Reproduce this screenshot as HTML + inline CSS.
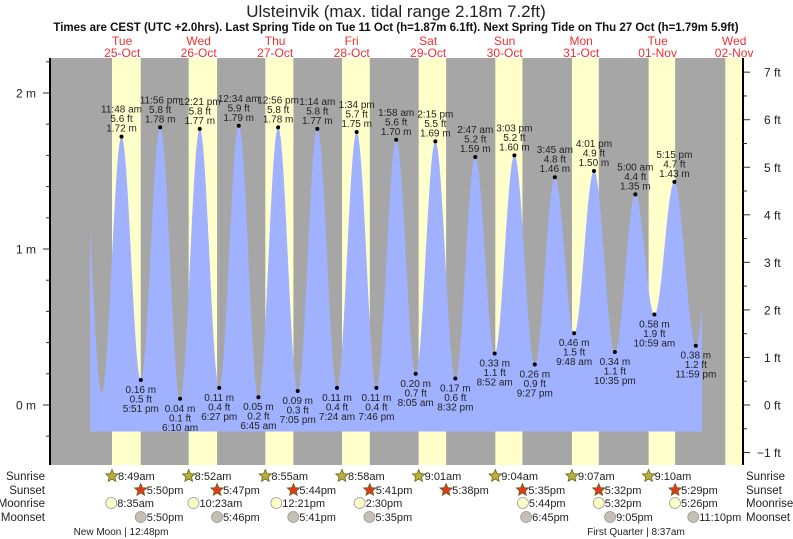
<!DOCTYPE html>
<html><head><meta charset="utf-8"><style>
html,body{margin:0;padding:0;background:#fff;}
svg{display:block;font-family:"Liberation Sans",sans-serif;}
</style></head><body>
<svg id="chart" width="793" height="539" viewBox="0 0 793 539">
<text x="396" y="17" text-anchor="middle" font-size="17" fill="#222">Ulsteinvik (max. tidal range 2.18m 7.2ft)</text>
<text x="396" y="31" text-anchor="middle" font-size="11.5" font-weight="bold" fill="#111">Times are CEST (UTC +2.0hrs). Last Spring Tide on Tue 11 Oct (h=1.87m 6.1ft). Next Spring Tide on Thu 27 Oct (h=1.79m 5.9ft)</text>
<g id="days"></g>
<g id="plot"></g>
<g id="axes"></g>
<g id="marks"></g>
<g id="bottom"></g>
</svg>
<script>
// Data (times in hours from 25-Oct 00:00, heights in metres)
const dayNames = ["Tue","Wed","Thu","Fri","Sat","Sun","Mon","Tue","Wed"];
const dayDates = ["25-Oct","26-Oct","27-Oct","28-Oct","29-Oct","30-Oct","31-Oct","01-Nov","02-Nov"];
const extremeTimes = [-0.4,5.6,11.8,17.85,23.93,30.17,36.35,42.45,48.57,54.75,60.93,67.08,73.23,79.4,85.57,91.77,97.97,104.08,110.25,116.53,122.78,128.87,135.05,141.45,147.75,153.8,160.02,166.58,173.0,178.98,185.25,191.98,197.8];
const extremeHeights = [1.62,0.08,1.72,0.16,1.78,0.04,1.77,0.11,1.79,0.05,1.78,0.09,1.77,0.11,1.75,0.11,1.70,0.20,1.69,0.17,1.59,0.33,1.60,0.26,1.46,0.46,1.50,0.34,1.35,0.58,1.43,0.38,1.40];
const extremeLabels = [null,null,"11:48 am","5:51 pm","11:56 pm","6:10 am","12:21 pm","6:27 pm","12:34 am","6:45 am","12:56 pm","7:05 pm","1:14 am","7:24 am","1:34 pm","7:46 pm","1:58 am","8:05 am","2:15 pm","8:32 pm","2:47 am","8:52 am","3:03 pm","9:27 pm","3:45 am","9:48 am","4:01 pm","10:35 pm","5:00 am","10:59 am","5:15 pm","11:59 pm",null];
const sunrise = [8.82,8.87,8.92,8.97,9.02,9.07,9.12,9.17,9.22];
const sunset = [17.83,17.78,17.73,17.68,17.63,17.58,17.53,17.48,30];
const sunriseLabels = ["8:49am","8:52am","8:55am","8:58am","9:01am","9:04am","9:07am","9:10am"];
const sunsetLabels = ["5:50pm","5:47pm","5:44pm","5:41pm","5:38pm","5:35pm","5:32pm","5:29pm"];
const moonriseDays = [0,1,2,3,5,6,7];
const moonriseTimes = [8.58,10.38,12.35,14.5,17.73,17.53,17.43];
const moonriseLabels = ["8:35am","10:23am","12:21pm","2:30pm","5:44pm","5:32pm","5:26pm"];
const moonsetDays = [0,1,2,3,5,6,7];
const moonsetTimes = [17.83,17.77,17.68,17.58,18.75,21.08,23.17];
const moonsetLabels = ["5:50pm","5:46pm","5:41pm","5:35pm","6:45pm","9:05pm","11:10pm"];
const mTicks = [0,1,2];
const ftTicks = [-1,0,1,2,3,4,5,6,7];

const NS="http://www.w3.org/2000/svg";
const L=50,R=743,T=58,B=465;
const x0=83.9, DAY=76.5;
const xs=t=>x0+t*DAY/24;
const ym=m=>405-m*156;
const yft=f=>ym(f*0.3048);
function mk(tag,attrs,parent,txt){const e=document.createElementNS(NS,tag);for(const k in attrs)e.setAttribute(k,attrs[k]);if(txt!==undefined)e.textContent=txt;parent.appendChild(e);return e;}
const gd=document.getElementById('days'),gp=document.getElementById('plot'),ga=document.getElementById('axes'),gm=document.getElementById('marks'),gb=document.getElementById('bottom');

let bg=mk('rect',{x:L,y:T,width:R-L,height:B-T,fill:'#a6a6a6'},gp);


for(let d=0;d<9;d++){
  const a=Math.max(L,xs(d*24+sunrise[d])),b=Math.min(R,xs(d*24+sunset[d]));
  let r=mk('rect',{x:a,y:T,width:b-a,height:B-T,fill:'#ffffcc'},gp);
  
  
  const cx=xs(d*24+12);
  let t1=mk('text',{x:cx,y:45,'text-anchor':'middle','font-size':12,fill:'#f03030'},gd,dayNames[d]);
  
  
  let t2=mk('text',{x:cx,y:57,'text-anchor':'middle','font-size':12,fill:'#f03030'},gd,dayDates[d]);
  
  
}
function h(t){
  for(let i=0;i<extremeTimes.length-1;i++){
    if(t>=extremeTimes[i]&&t<=extremeTimes[i+1]){
      const f=(t-extremeTimes[i])/(extremeTimes[i+1]-extremeTimes[i]);
      const a=extremeHeights[i],b=extremeHeights[i+1];
      return a+(b-a)*(1-Math.cos(Math.PI*f))/2;
    }
  }
  return extremeHeights[extremeHeights.length-1];
}
const t0=1.9,t1=193.9,yb=ym(-0.17);
let d='M'+xs(t0)+','+yb;
for(let t=t0;t<=t1+0.001;t+=0.2){d+=' L'+xs(t).toFixed(2)+','+ym(h(t)).toFixed(2);}
d+=' L'+xs(t1)+','+yb+' Z';
let area=mk('path',{d:d,fill:'#a0b1ff'},gp);


for(let i=0;i<extremeTimes.length;i++){
  if(!extremeLabels[i])continue;
  const x=xs(extremeTimes[i]),y=ym(extremeHeights[i]);
  const high=extremeHeights[i]>1;
  let c=mk('circle',{cx:x,cy:y,r:2,fill:'#000'},gm);
  
  
  const ft=(extremeHeights[i]/0.3048).toFixed(1)+' ft', m=extremeHeights[i].toFixed(2)+' m';
  const lines=high?[[extremeLabels[i],-24],[ft,-14.5],[m,-5]]:[[m,13],[ft,22.5],[extremeLabels[i],32]];
  for(const [s,dy] of lines){
    let tx=mk('text',{x:x,y:y+dy,'text-anchor':'middle','font-size':10,fill:'#222'},gm,s);
    
    
  }
}
let la=mk('line',{x1:L,y1:T,x2:L,y2:B,stroke:'#000','stroke-width':2},ga);


let ra=mk('line',{x1:R,y1:T,x2:R,y2:B,stroke:'#000','stroke-width':2},ga);


for(let v=-0.4;v<=2.3;v+=0.2){const y=ym(v);if(y<T||y>B)continue;
  const major=Math.abs(v-Math.round(v))<0.01;
  let tk=mk('line',{x1:major?43:46,y1:y,x2:L,y2:y,stroke:'#333'},ga);
  
  }
for(const m of mTicks){let t=mk('text',{x:36,y:ym(m)+4.5,'text-anchor':'end','font-size':12,fill:'#222'},ga,m+' m');
  
  }
for(let v=-1;v<=7.5;v+=0.5){const y=yft(v);if(y<T||y>B)continue;
  const major=Number.isInteger(v);
  let tk=mk('line',{x1:R,y1:y,x2:major?750:747,y2:y,stroke:'#333'},ga);
  
  }
for(const f of ftTicks){let t=mk('text',{x:f<0?757:764,y:yft(f)+4.5,'font-size':12,fill:'#222'},ga,(f<0?'\u22121':f)+' ft');
  
  }
const rows=[["Sunrise",480],["Sunset",494],["Moonrise",507],["Moonset",521]];
for(const [n,y] of rows){
  let a=mk('text',{x:45,y:y,'text-anchor':'end','font-size':11.5,fill:'#222'},gb,n);
  
  
  let b=mk('text',{x:746,y:y,'font-size':11.5,fill:'#222'},gb,n);
  
  
}
function star(cx,cy,fill){let p='';for(let k=0;k<10;k++){const r=k%2?3:6.5,a=-Math.PI/2+k*Math.PI/5;p+=(cx+r*Math.cos(a)).toFixed(1)+','+(cy+r*Math.sin(a)).toFixed(1)+' ';}
  return mk('polygon',{points:p,fill:fill,stroke:'#6a6020','stroke-width':0.8},gb);}
function row(days,times,labels,y,kind){
  for(let i=0;i<labels.length;i++){
    const x=xs(days[i]*24+times[i]);
    let ic;
    if(kind==='sunrise')ic=star(x,y-4,'#b8b038');
    else if(kind==='sunset')ic=star(x,y-4,'#e03a1a');
    else ic=mk('circle',{cx:x,cy:y-4,r:5.5,fill:kind==='moonrise'?'#ffffc8':'#c4c0b4',stroke:'#999','stroke-width':0.8},gb);
    
    
    let t=mk('text',{x:x+6,y:y,'font-size':11,fill:'#222'},gb,labels[i]);
    
    
  }
}
const idx=[0,1,2,3,4,5,6,7];
row(idx,sunrise,sunriseLabels,480,'sunrise');
row(idx,sunset,sunsetLabels,494,'sunset');
row(moonriseDays,moonriseTimes,moonriseLabels,507,'moonrise');
row(moonsetDays,moonsetTimes,moonsetLabels,521,'moonset');
let p1=mk('text',{x:121,y:535,'text-anchor':'middle','font-size':10,fill:'#222'},gb,'New Moon | 12:48pm');


let p2=mk('text',{x:636,y:535,'text-anchor':'middle','font-size':10,fill:'#222'},gb,'First Quarter | 8:37am');


</script>
</body></html>
